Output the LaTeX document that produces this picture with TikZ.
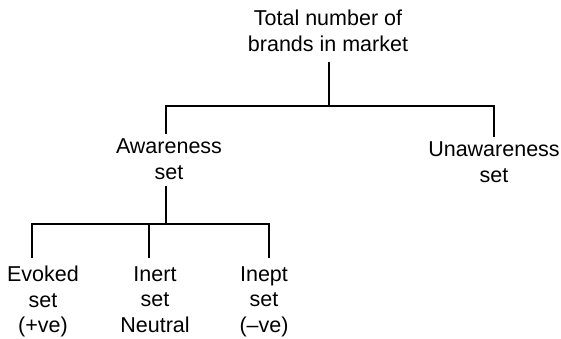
\documentclass[tikz,border=0pt]{standalone}
\usepackage{fontspec}
\setmainfont{Liberation Sans}
\begin{document}
\begin{tikzpicture}[x=1pt,y=-1pt,
  label/.style={align=center,inner sep=0pt,anchor=north,font=\fontsize{21.5}{25.5}\selectfont},
  tree/.style={line width=2.8pt,black}]
\useasboundingbox (0,0) rectangle (561,338);
% nodes
\node[label] (total) at (328,10) {Total number of\\brands in market};
\node[label] (aw) at (169,139) {Awareness\\set};
\node[label] (un) at (494,142) {Unawareness\\set};
\node[label] (ev) at (43,266) {Evoked\\set\\(+ve)};
\node[label] (in) at (155,266) {Inert\\set\\Neutral};
\node[label] (ie) at (264,266) {Inept\\set\\(--ve)};
% bar junctions
\coordinate (bar1) at (329,106);
\coordinate (bar2) at (166,224);
% first level
\draw[tree] (total.south -| bar1) ++(0pt,-10pt) -- (bar1);
\draw[tree] ([xshift=-3pt,yshift=5pt]aw.north) |- (bar1) -| ([yshift=5pt]un.north);
% second level
\draw[tree] ([xshift=-3pt,yshift=-6pt]aw.south) -- (bar2);
\draw[tree] ([xshift=-11pt,yshift=8pt]ev.north) |- (bar2) -| ([xshift=5pt,yshift=8pt]ie.north);
\draw[tree] ([xshift=-6pt,yshift=8pt]in.north) -- ([xshift=-6pt]in.north |- bar2);
\end{tikzpicture}
\end{document}
